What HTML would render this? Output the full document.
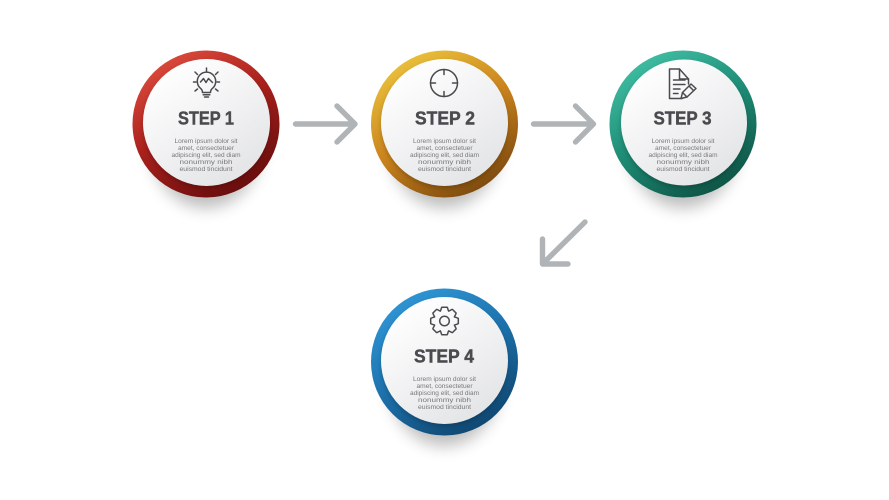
<!DOCTYPE html>
<html>
<head>
<meta charset="utf-8">
<style>
html,body{margin:0;padding:0;background:#fff;width:889px;height:500px;overflow:hidden}
svg{display:block}
.t{font-family:"Liberation Sans",sans-serif;font-weight:700;font-size:18px;fill:#4a4b4e;stroke:#4a4b4e;stroke-width:.45;text-anchor:middle}
.b{font-family:"Liberation Sans",sans-serif;font-size:6.4px;fill:#77787b;text-anchor:middle}
.i{fill:none;stroke:#4a4b4e;stroke-width:1.5;stroke-linecap:round;stroke-linejoin:round}
.a{fill:none;stroke:#b1b4b6;stroke-width:5.4;stroke-linecap:round;stroke-linejoin:round}
</style>
</head>
<body>
<svg width="889" height="500" viewBox="0 0 889 500" xmlns="http://www.w3.org/2000/svg">
<defs>
<linearGradient id="r" x1="0.2" y1="0.05" x2="0.75" y2="0.98"><stop offset="0" stop-color="#dc4a3c"/><stop offset="0.45" stop-color="#a9201c"/><stop offset="1" stop-color="#650d0d"/></linearGradient>
<linearGradient id="y" x1="0.2" y1="0.05" x2="0.75" y2="0.98"><stop offset="0" stop-color="#ebc23c"/><stop offset="0.5" stop-color="#c9821c"/><stop offset="1" stop-color="#7a480e"/></linearGradient>
<linearGradient id="g" x1="0.2" y1="0.05" x2="0.75" y2="0.98"><stop offset="0" stop-color="#40bea3"/><stop offset="0.5" stop-color="#1d8a74"/><stop offset="1" stop-color="#0e5244"/></linearGradient>
<linearGradient id="u" x1="0.2" y1="0.05" x2="0.75" y2="0.98"><stop offset="0" stop-color="#3096d6"/><stop offset="0.5" stop-color="#1c70aa"/><stop offset="1" stop-color="#0f456e"/></linearGradient>
<linearGradient id="w" x1="0.2" y1="0.05" x2="0.8" y2="0.95"><stop offset="0" stop-color="#ffffff"/><stop offset="1" stop-color="#e3e4e6"/></linearGradient>
<filter id="s" x="-50%" y="-50%" width="200%" height="200%"><feGaussianBlur stdDeviation="8"/></filter>
<filter id="s2" x="-50%" y="-50%" width="200%" height="200%"><feGaussianBlur stdDeviation="2.5"/></filter>
</defs>
<rect width="889" height="500" fill="#fff"/>

<!-- Step 1 -->
<g transform="translate(206,124)">
<ellipse cx="0" cy="18" rx="56" ry="66" fill="#000" opacity=".26" filter="url(#s)"/>
<circle r="73.5" fill="url(#r)"/>
<circle cx=".5" cy="1" r="63.5" fill="#000" opacity=".2" filter="url(#s2)"/>
<circle cx=".5" cy="-1.500" r="63.5" fill="url(#w)"/>
<text class="t" y="0.5" textLength="56" lengthAdjust="spacingAndGlyphs">STEP 1</text>
<text class="b" y="19" textLength="63" lengthAdjust="spacingAndGlyphs">Lorem ipsum dolor sit</text>
<text class="b" y="26" textLength="56" lengthAdjust="spacingAndGlyphs">amet, consectetuer</text>
<text class="b" y="33" textLength="69" lengthAdjust="spacingAndGlyphs">adipiscing elit, sed diam</text>
<text class="b" y="40" textLength="53" lengthAdjust="spacingAndGlyphs">nonummy nibh</text>
<text class="b" y="47" textLength="53" lengthAdjust="spacingAndGlyphs">euismod tincidunt</text>
</g>
<g class="i" transform="translate(206.500,83)">
<path d="M-4 9.5C-4 7.5-4.500 6.500-6 5.300A9.200 9.200 0 1 1 6 5.300C4.500 6.500 4 7.500 4 9.500Z"/>
<path d="M-6-1L-3-4.500L-0.500-0.500L2-4.500L6-0.500"/>
<path d="M-3.300 11.800H3.300M-2 14H2"/>
<path d="M0-11.500V-15M-9-8.500L-11.500-11M9-8.500L11.500-11M-13-1H-10.500M13-1H10.500M-9 6L-11.500 8M9 6L11.500 8"/>
</g>

<!-- Step 2 -->
<g transform="translate(444.5,124)">
<ellipse cx="0" cy="18" rx="56" ry="66" fill="#000" opacity=".26" filter="url(#s)"/>
<circle r="73.5" fill="url(#y)"/>
<circle cy="1" r="63.5" fill="#000" opacity=".2" filter="url(#s2)"/>
<circle cy="-1.500" r="63.5" fill="url(#w)"/>
<text class="t" x="0.5" y="0.5" textLength="60" lengthAdjust="spacingAndGlyphs">STEP 2</text>
<text class="b" y="19" textLength="63" lengthAdjust="spacingAndGlyphs">Lorem ipsum dolor sit</text>
<text class="b" y="26" textLength="56" lengthAdjust="spacingAndGlyphs">amet, consectetuer</text>
<text class="b" y="33" textLength="69" lengthAdjust="spacingAndGlyphs">adipiscing elit, sed diam</text>
<text class="b" y="40" textLength="53" lengthAdjust="spacingAndGlyphs">nonummy nibh</text>
<text class="b" y="47" textLength="53" lengthAdjust="spacingAndGlyphs">euismod tincidunt</text>
</g>
<g class="i" transform="translate(444,83)">
<circle r="13.5"/>
<path d="M0-13.500V-8.500M0 13.500V8.500M-13.500 0H-8.500M13.500 0H8.500"/>
</g>

<!-- Step 3 -->
<g transform="translate(683,124)">
<ellipse cx="0" cy="18" rx="56" ry="66" fill="#000" opacity=".26" filter="url(#s)"/>
<circle r="73.5" fill="url(#g)"/>
<circle cx="1" cy="1" r="63" fill="#000" opacity=".2" filter="url(#s2)"/>
<circle cx="1" cy="-1.500" r="63" fill="url(#w)"/>
<text class="t" x="-0.5" y="0.5" textLength="58" lengthAdjust="spacingAndGlyphs">STEP 3</text>
<text class="b" y="19" textLength="63" lengthAdjust="spacingAndGlyphs">Lorem ipsum dolor sit</text>
<text class="b" y="26" textLength="56" lengthAdjust="spacingAndGlyphs">amet, consectetuer</text>
<text class="b" y="33" textLength="69" lengthAdjust="spacingAndGlyphs">adipiscing elit, sed diam</text>
<text class="b" y="40" textLength="53" lengthAdjust="spacingAndGlyphs">nonummy nibh</text>
<text class="b" y="47" textLength="53" lengthAdjust="spacingAndGlyphs">euismod tincidunt</text>
</g>
<g class="i">
<path d="M682 98.500H669.500V69H679.500L688.500 79V84"/>
<path d="M679.500 69V79H688.500"/>
<path d="M673.500 80H685M673.500 84.500H685M673.500 89H680M673.500 93.500H678"/>
<path d="M681 98.500L682.500 92.500L691 84L696 88.500L687 97Z"/>
<path d="M689 86L693.500 90.500M682.500 92.500L687 97"/>
</g>

<!-- Step 4 -->
<g transform="translate(444.5,362)">
<ellipse cx="0" cy="18" rx="56" ry="66" fill="#000" opacity=".26" filter="url(#s)"/>
<circle r="73.5" fill="url(#u)"/>
<circle cy="1" r="63.5" fill="#000" opacity=".2" filter="url(#s2)"/>
<circle cy="-1.500" r="63.5" fill="url(#w)"/>
<text class="t" x="-0.5" y="0.5" textLength="60" lengthAdjust="spacingAndGlyphs">STEP 4</text>
<text class="b" y="19" textLength="63" lengthAdjust="spacingAndGlyphs">Lorem ipsum dolor sit</text>
<text class="b" y="26" textLength="56" lengthAdjust="spacingAndGlyphs">amet, consectetuer</text>
<text class="b" y="33" textLength="69" lengthAdjust="spacingAndGlyphs">adipiscing elit, sed diam</text>
<text class="b" y="40" textLength="53" lengthAdjust="spacingAndGlyphs">nonummy nibh</text>
<text class="b" y="47" textLength="53" lengthAdjust="spacingAndGlyphs">euismod tincidunt</text>
</g>
<g class="i" transform="translate(444.500,321)">
<circle r="4.800"/>
<path d="M-4.100-10C-3.400-11-3.400-13-2.600-13.800H2.600C3.400-13 3.400-11 4.100-10"/>
<path transform="rotate(45)" d="M-4.100-10C-3.400-11-3.400-13-2.600-13.800H2.600C3.400-13 3.400-11 4.100-10"/>
<path transform="rotate(90)" d="M-4.100-10C-3.400-11-3.400-13-2.600-13.800H2.600C3.400-13 3.400-11 4.100-10"/>
<path transform="rotate(135)" d="M-4.100-10C-3.400-11-3.400-13-2.600-13.800H2.600C3.400-13 3.400-11 4.100-10"/>
<path transform="rotate(180)" d="M-4.100-10C-3.400-11-3.400-13-2.600-13.800H2.600C3.400-13 3.400-11 4.100-10"/>
<path transform="rotate(225)" d="M-4.100-10C-3.400-11-3.400-13-2.600-13.800H2.600C3.400-13 3.400-11 4.100-10"/>
<path transform="rotate(270)" d="M-4.100-10C-3.400-11-3.400-13-2.600-13.800H2.600C3.400-13 3.400-11 4.100-10"/>
<path transform="rotate(315)" d="M-4.100-10C-3.400-11-3.400-13-2.600-13.800H2.600C3.400-13 3.400-11 4.100-10"/>
</g>

<!-- Arrows -->
<path class="a" d="M295.500 124H355M337 106L355 124L337 142"/>
<path class="a" d="M533.500 124H593.500M575.500 106L593.500 124L575.500 142"/>
<path class="a" d="M585 222L542.500 264M542.500 239V264H568"/>
</svg>
</body>
</html>
